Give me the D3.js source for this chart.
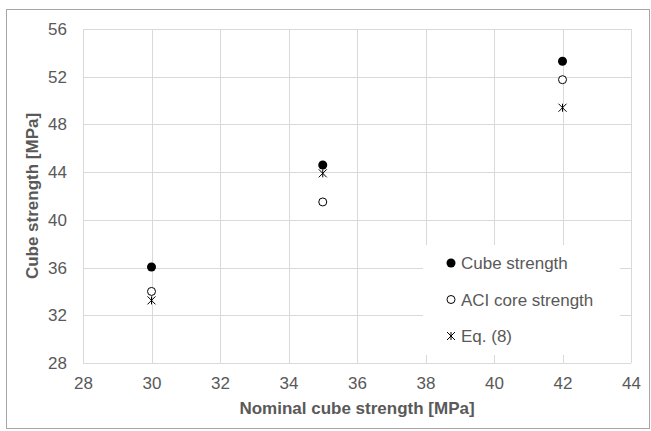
<!DOCTYPE html>
<meta charset="utf-8">
<style>
  body { margin: 0; background: #fff; }
  text { font-family: Arial, "Liberation Sans", sans-serif; fill: #595959; }
</style>
<svg width="651" height="431"></svg>
<script src="https://d3js.org/d3.v7.min.js"></script>
<script>

var nominal = [30, 35, 42];
var cubeStrength = [36.05, 44.6, 53.3];
var aciCore = [34.0, 41.5, 51.75];
var eq8 = [33.25, 43.9, 49.4];

var xTicks = d3.range(28, 45, 2);
var yTicks = d3.range(28, 57, 4);

var svg = d3.select("svg"),
    width = +svg.attr("width"),
    height = +svg.attr("height");

var margin = {left: 83, right: 20, top: 29, bottom: 68};

var x = d3.scaleLinear().domain([28, 44]).range([margin.left, width - margin.right]);
var y = d3.scaleLinear().domain([28, 56]).range([height - margin.bottom, margin.top]);

// outer frame
svg.append("rect")
    .attr("x", 6.5).attr("y", 9.5)
    .attr("width", width - 8).attr("height", height - 12)
    .attr("fill", "#fff")
    .attr("stroke", "#a6a6a6");

// grid
svg.append("g")
    .attr("stroke", "#d9d9d9")
    .selectAll("line.v")
    .data(xTicks)
    .enter().append("line")
    .attr("x1", function(d) { return Math.round(x(d)) + 0.5; })
    .attr("x2", function(d) { return Math.round(x(d)) + 0.5; })
    .attr("y1", y(28)).attr("y2", y(56));

svg.append("g")
    .attr("stroke", "#d9d9d9")
    .selectAll("line.h")
    .data(yTicks)
    .enter().append("line")
    .attr("y1", function(d) { return Math.round(y(d)) + 0.5; })
    .attr("y2", function(d) { return Math.round(y(d)) + 0.5; })
    .attr("x1", x(28)).attr("x2", x(44));

// axes (labels only)
var xAxis = svg.append("g")
    .attr("transform", "translate(0," + y(28) + ")")
    .call(d3.axisBottom(x).tickValues(xTicks).tickSize(0).tickPadding(14));
var yAxis = svg.append("g")
    .attr("transform", "translate(" + x(28) + ",0)")
    .call(d3.axisLeft(y).tickValues(yTicks).tickSize(0).tickPadding(16));
[xAxis, yAxis].forEach(function(a) {
  a.select(".domain").remove();
  a.selectAll("text").attr("font-size", 17).attr("fill", "#595959")
      .attr("font-family", "Arial, 'Liberation Sans', sans-serif");
});

svg.append("text")
    .attr("x", (x(28) + x(44)) / 2).attr("y", 414)
    .attr("text-anchor", "middle")
    .attr("font-size", 17).attr("font-weight", "bold")
    .text("Nominal cube strength [MPa]");

svg.append("text")
    .attr("transform", "translate(38," + (y(28) + y(56)) / 2 + ") rotate(-90)")
    .attr("text-anchor", "middle")
    .attr("font-size", 17).attr("font-weight", "bold")
    .text("Cube strength [MPa]");

// markers
var star = function(g, size) {
  var s = size / 2;
  g.append("path")
      .attr("d", "M" + (-s) + "," + (-s) + "L" + s + "," + s +
                 "M" + (-s) + "," + s + "L" + s + "," + (-s) +
                 "M0," + (-s) + "L0," + s)
      .attr("stroke", "#000").attr("stroke-width", 1).attr("fill", "none");
};

function drawMarker(g, type) {
  if (type === "filled") {
    g.append("circle").attr("r", 4.5).attr("fill", "#000");
  } else if (type === "open") {
    g.append("circle").attr("r", 4).attr("fill", "#fff")
        .attr("stroke", "#000").attr("stroke-width", 1);
  } else {
    star(g, 8);
  }
}

var series = [
  {name: "Cube strength", values: cubeStrength, type: "filled"},
  {name: "ACI core strength", values: aciCore, type: "open"},
  {name: "Eq. (8)", values: eq8, type: "star"}
];

// draw star first so the circles sit on top, as in the picture
[series[2], series[1], series[0]].forEach(function(s) {
  s.values.forEach(function(v, i) {
    var g = svg.append("g")
        .attr("transform", "translate(" + x(nominal[i]) + "," + y(v) + ")");
    drawMarker(g, s.type);
  });
});

// legend
var legend = svg.append("g");
legend.append("rect")
    .attr("x", 423).attr("y", 245).attr("width", 197).attr("height", 110)
    .attr("fill", "#fff");

series.forEach(function(s, i) {
  var yy = 263 + i * 36.5;
  var g = legend.append("g").attr("transform", "translate(451," + yy + ")");
  drawMarker(g, s.type);
  legend.append("text")
      .attr("x", 461).attr("y", yy)
      .attr("dy", "0.36em")
      .attr("font-size", 17)
      .text(s.name);
});

</script>
